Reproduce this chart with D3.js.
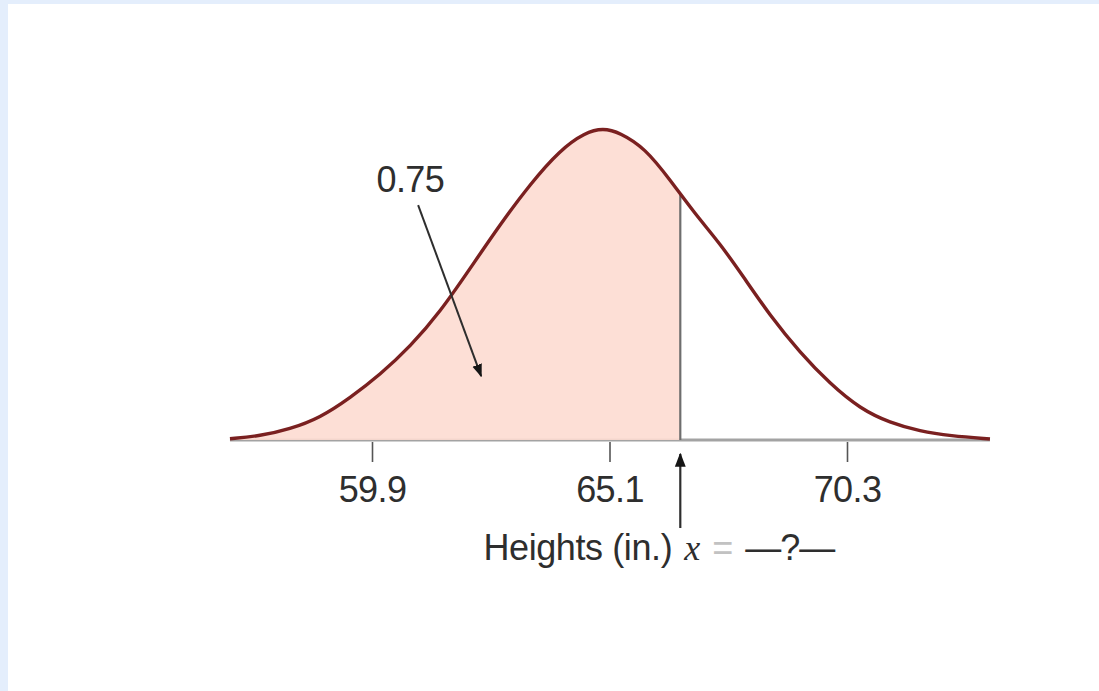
<!DOCTYPE html>
<html>
<head>
<meta charset="utf-8">
<script src="https://cdn.jsdelivr.net/npm/d3@7"></script>
<style>
  html, body { margin: 0; padding: 0; background: #e4eefc; }
  svg { display: block; }
</style>
</head>
<body>
<svg id="chart" width="1099" height="691"></svg>
<script>
// Height distribution (inches) with relative density, peak = 1
const curveHeights = [56.79, 57.45, 58.10, 58.76, 59.42, 60.08, 60.74, 61.39, 62.05, 62.70,
                      63.36, 64.02, 64.56, 64.96, 65.33, 65.88, 66.42, 66.97, 67.52, 68.07,
                      68.61, 69.27, 69.93, 70.59, 71.24, 71.90, 72.56, 73.43];
const curveDensity = [0.004, 0.013, 0.035, 0.071, 0.135, 0.210, 0.300, 0.410, 0.550, 0.690,
                      0.820, 0.930, 0.985, 1.000, 0.985, 0.935, 0.835, 0.725, 0.630, 0.515,
                      0.400, 0.280, 0.180, 0.100, 0.055, 0.028, 0.013, 0.003];
const tickValues = [59.9, 65.1, 70.3];
const tickLabels = ["59.9", "65.1", "70.3"];
const shadedArea = 0.75;      // area to the left of the cut
const cutHeight = 66.65;      // unknown height x marking the cut
const axisTitle = "Heights (in.)";

const points = curveHeights.map((h, i) => ({ h, d: curveDensity[i] }));
const SANS = "'Liberation Sans', Arial, Helvetica, sans-serif";
const INK = "#2e2e2e";

const svg = d3.select("#chart");
svg.append("rect").attr("x", 8).attr("y", 4).attr("width", 1099 - 8).attr("height", 691 - 4).attr("fill", "#ffffff");

const x = d3.scaleLinear().domain([59.9, 70.3]).range([372, 847]);
const y = d3.scaleLinear().domain([0, 1]).range([440, 128]);
const xMin = d3.min(curveHeights), xMax = d3.max(curveHeights);

const line = d3.line().x(p => x(p.h)).y(p => y(p.d)).curve(d3.curveBasis);
const area = d3.area().x(p => x(p.h)).y0(y(0)).y1(p => y(p.d)).curve(d3.curveBasis);

// clip the shaded region at the cut
svg.append("clipPath").attr("id", "leftOfCut")
  .append("rect").attr("x", 0).attr("y", 0).attr("width", x(cutHeight)).attr("height", 691);

// baseline axis
svg.append("line")
  .attr("x1", x(xMin)).attr("x2", x(xMax)).attr("y1", y(0)).attr("y2", y(0))
  .attr("stroke", "#a3a3a3").attr("stroke-width", 3);

svg.append("path").datum(points)
  .attr("d", area).attr("fill", "#fddcd2").attr("fill-opacity", 0.9)
  .attr("clip-path", "url(#leftOfCut)");

// curve height at the cut, found on the drawn path
const curvePath = svg.append("path").datum(points)
  .attr("d", line).attr("fill", "none")
  .attr("stroke", "#7a2020").attr("stroke-width", 3.4);
const node = curvePath.node();
const total = node.getTotalLength();
let lo = 0, hi = total;
for (let k = 0; k < 40; k++) {
  const mid = (lo + hi) / 2;
  if (node.getPointAtLength(mid).x < x(cutHeight)) lo = mid; else hi = mid;
}
const cutTopY = node.getPointAtLength(lo).y;

// vertical cut line, kept under the curve
svg.append("line")
  .attr("x1", x(cutHeight)).attr("x2", x(cutHeight))
  .attr("y1", y(0)).attr("y2", cutTopY)
  .attr("stroke", "#6e6e6e").attr("stroke-width", 2.2);
curvePath.raise();

// ticks and labels
const axisG = svg.append("g").attr("transform", `translate(0,${y(0) + 2})`);
const axis = d3.axisBottom(x).tickValues(tickValues)
  .tickFormat((d, i) => tickLabels[i]).tickSize(20);
axisG.call(axis);
axisG.select(".domain").remove();
axisG.selectAll(".tick line").attr("stroke", "#555").attr("stroke-width", 1.6);
axisG.selectAll(".tick text")
  .attr("y", 60).attr("dy", null)
  .attr("font-family", SANS).attr("font-size", 36).attr("fill", INK).attr("letter-spacing", -0.6);

// arrowheads
const defs = svg.append("defs");
defs.append("marker").attr("id", "head").attr("viewBox", "0 0 10 10")
  .attr("refX", 9).attr("refY", 5).attr("markerWidth", 6.5).attr("markerHeight", 6.5)
  .attr("orient", "auto").attr("markerUnits", "strokeWidth")
  .append("path").attr("d", "M0,1.2 L10,5 L0,8.8 Z").attr("fill", "#151515");

// arrow pointing up at the cut
svg.append("line")
  .attr("x1", x(cutHeight)).attr("x2", x(cutHeight))
  .attr("y1", y(0) + 88).attr("y2", y(0) + 14)
  .attr("stroke", INK).attr("stroke-width", 2.2)
  .attr("marker-end", "url(#head)");

// axis title with the unknown x
svg.append("text")
  .attr("x", x(cutHeight) - 8).attr("y", 560).attr("text-anchor", "end")
  .attr("font-family", SANS).attr("font-size", 36)
  .attr("fill", INK).attr("letter-spacing", -0.4)
  .text(axisTitle);

const eq = svg.append("text").attr("x", x(cutHeight) + 4).attr("y", 560)
  .attr("font-size", 36);
eq.append("tspan").attr("font-family", "'Liberation Serif', 'Times New Roman', serif")
  .attr("font-style", "italic").attr("fill", INK).text("x");
eq.append("tspan").attr("dx", 12).attr("font-family", SANS)
  .attr("fill", "#c2c2c2").text("=");
eq.append("tspan").attr("dx", 12).attr("font-family", SANS)
  .attr("fill", INK).attr("letter-spacing", -1).text("—?—");

// area label with leader arrow
svg.append("text")
  .attr("x", x(60.74)).attr("y", y(0.795)).attr("text-anchor", "middle")
  .attr("font-family", SANS).attr("font-size", 36)
  .attr("fill", INK).attr("letter-spacing", -0.6)
  .text(shadedArea.toFixed(2));

svg.append("line")
  .attr("x1", x(60.91)).attr("y1", y(0.753))
  .attr("x2", x(62.29)).attr("y2", y(0.205))
  .attr("stroke", INK).attr("stroke-width", 2)
  .attr("marker-end", "url(#head)");
</script>
</body>
</html>
